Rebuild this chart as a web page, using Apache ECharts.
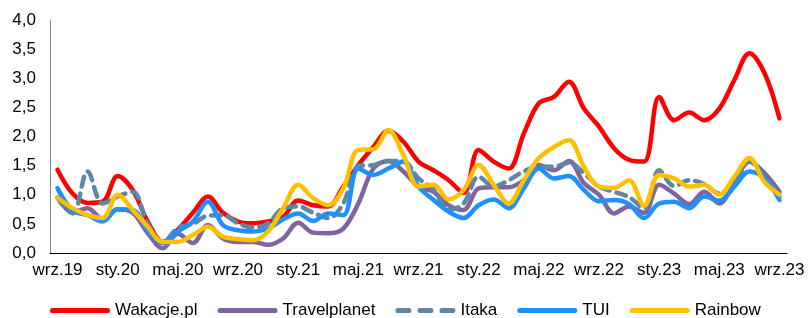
<!DOCTYPE html>
<html>
<head>
<meta charset="utf-8">
<script src="https://cdn.jsdelivr.net/npm/echarts@6/dist/echarts.min.js"></script>
<style>
  html, body { margin: 0; padding: 0; background: #fff; }
  #chart { width: 808px; height: 318px; }
</style>
</head>
<body>
<div id="chart"></div>
<script>
// monthly, wrz.19 .. wrz.23
var monthNames = ['sty', 'lut', 'mar', 'kwi', 'maj', 'cze', 'lip', 'sie', 'wrz', 'paź', 'lis', 'gru'];
var months = [];
for (var k = 0; k < 49; k++) {
    var m = (8 + k) % 12;
    var y = 19 + Math.floor((8 + k) / 12);
    months.push(monthNames[m] + '.' + y);
}

var seriesNames = ['Wakacje.pl', 'Travelplanet', 'Itaka', 'TUI', 'Rainbow'];

var wakacje = [1.43, 1.02, 0.86, 0.88, 1.32, 1.08, 0.54, 0.19, 0.40, 0.69, 0.97, 0.69, 0.54, 0.51, 0.54, 0.62, 0.90,
    0.82, 0.80, 1.14, 1.51, 1.82, 2.10, 1.91, 1.57, 1.42, 1.25, 1.03, 1.77, 1.57, 1.45, 2.05, 2.57, 2.68, 2.94, 2.48,
    2.17, 1.80, 1.60, 1.57, 2.68, 2.28, 2.41, 2.28, 2.48, 2.97, 3.43, 3.09, 2.31];
var travelplanet = [0.95, 0.70, 0.77, 0.58, 0.75, 0.69, 0.34, 0.08, 0.33, 0.17, 0.48, 0.25, 0.19, 0.19, 0.14, 0.25, 0.52,
    0.35, 0.34, 0.42, 0.85, 1.45, 1.58, 1.40, 1.14, 1.05, 0.82, 0.74, 1.11, 1.13, 1.13, 1.25, 1.51, 1.42, 1.58, 1.20,
    1.00, 0.68, 0.80, 0.69, 1.17, 1.02, 0.84, 1.05, 0.85, 1.22, 1.57, 1.37, 1.05];
var itaka = [0.95, 0.68, 1.40, 0.85, 0.97, 1.05, 0.50, 0.18, 0.43, 0.50, 0.64, 0.65, 0.51, 0.44, 0.51, 0.77, 0.80,
    0.69, 0.60, 0.85, 1.49, 1.51, 1.58, 1.57, 1.28, 1.09, 0.74, 0.85, 1.31, 1.14, 1.25, 1.40, 1.48, 1.48, 1.55, 1.37,
    1.14, 1.05, 0.96, 0.77, 1.42, 1.15, 1.25, 1.18, 1.02, 1.20, 1.57, 1.31, 0.97];
var tui = [1.11, 0.73, 0.65, 0.54, 0.75, 0.74, 0.39, 0.17, 0.37, 0.54, 0.88, 0.48, 0.39, 0.37, 0.42, 0.58, 0.68,
    0.55, 0.68, 0.65, 1.45, 1.34, 1.45, 1.57, 1.14, 0.91, 0.71, 0.60, 0.82, 0.92, 0.77, 1.11, 1.45, 1.28, 1.32, 1.08,
    0.89, 0.91, 0.84, 0.60, 0.85, 0.88, 0.77, 0.97, 0.90, 1.14, 1.40, 1.28, 0.91];
var rainbow = [0.95, 0.77, 0.65, 0.60, 1.00, 0.74, 0.45, 0.19, 0.19, 0.31, 0.45, 0.28, 0.24, 0.22, 0.37, 0.77, 1.17,
    0.94, 0.82, 1.11, 1.77, 1.78, 2.11, 1.68, 1.14, 1.17, 0.92, 1.08, 1.51, 1.17, 0.85, 1.25, 1.63, 1.82, 1.94, 1.48,
    1.14, 1.12, 1.25, 0.81, 1.34, 1.28, 1.14, 1.17, 1.00, 1.31, 1.63, 1.22, 1.00];

var colors = ['#FF0000', '#8064A2', '#5D87A5', '#1E90FF', '#FFC000'];
var allData = [wakacje, travelplanet, itaka, tui, rainbow];

var solidIcon = 'path://M2,0H58A2,2.5,0,0,1,58,5H2A2,2.5,0,0,1,2,0Z';
var dashIcon = 'path://M2,0H14A2,2.5,0,0,1,14,5H2A2,2.5,0,0,1,2,0Z M24,0H36A2,2.5,0,0,1,36,5H24A2,2.5,0,0,1,24,0Z M46,0H58A2,2.5,0,0,1,58,5H46A2,2.5,0,0,1,46,0Z';

var chart = echarts.init(document.getElementById('chart'));

var series = [];
var legendData = [];
for (var i = 0; i < seriesNames.length; i++) {
    series.push({
        name: seriesNames[i],
        type: 'line',
        data: allData[i],
        smooth: 0.35,
        showSymbol: false,
        symbol: 'none',
        lineStyle: {
            color: colors[i],
            width: 4.5,
            type: i === 2 ? [10, 7] : 'solid',
            cap: 'round'
        },
        itemStyle: { color: colors[i] }
    });
    legendData.push({ name: seriesNames[i], icon: i === 2 ? dashIcon : solidIcon });
}

var option = {
    animation: false,
    textStyle: { fontFamily: 'Liberation Sans, Arial, sans-serif' },
    grid: { left: 50, right: 21, top: 20, bottom: 65 },
    legend: {
        data: legendData,
        left: 45,
        top: 297,
        itemWidth: 60,
        itemHeight: 5,
        itemGap: 20,
        textStyle: { fontSize: 17, color: '#000', fontFamily: 'Liberation Sans' }
    },
    xAxis: {
        type: 'category',
        data: months,
        boundaryGap: true,
        axisLine: { lineStyle: { color: '#000', width: 1 } },
        axisTick: { interval: 3, length: 6, lineStyle: { color: '#000' } },
        axisLabel: { interval: 3, fontSize: 17, color: '#000', margin: 9 },
        splitLine: { show: false }
    },
    yAxis: {
        type: 'value',
        min: 0,
        max: 4,
        interval: 0.5,
        axisLine: { show: true, lineStyle: { color: '#868686', width: 1 } },
        axisTick: { show: false },
        splitLine: { show: false },
        axisLabel: {
            fontSize: 17,
            color: '#000',
            margin: 14,
            formatter: function (v) { return v.toFixed(1).replace('.', ','); }
        }
    },
    series: series
};

chart.setOption(option);
</script>
</body>
</html>
